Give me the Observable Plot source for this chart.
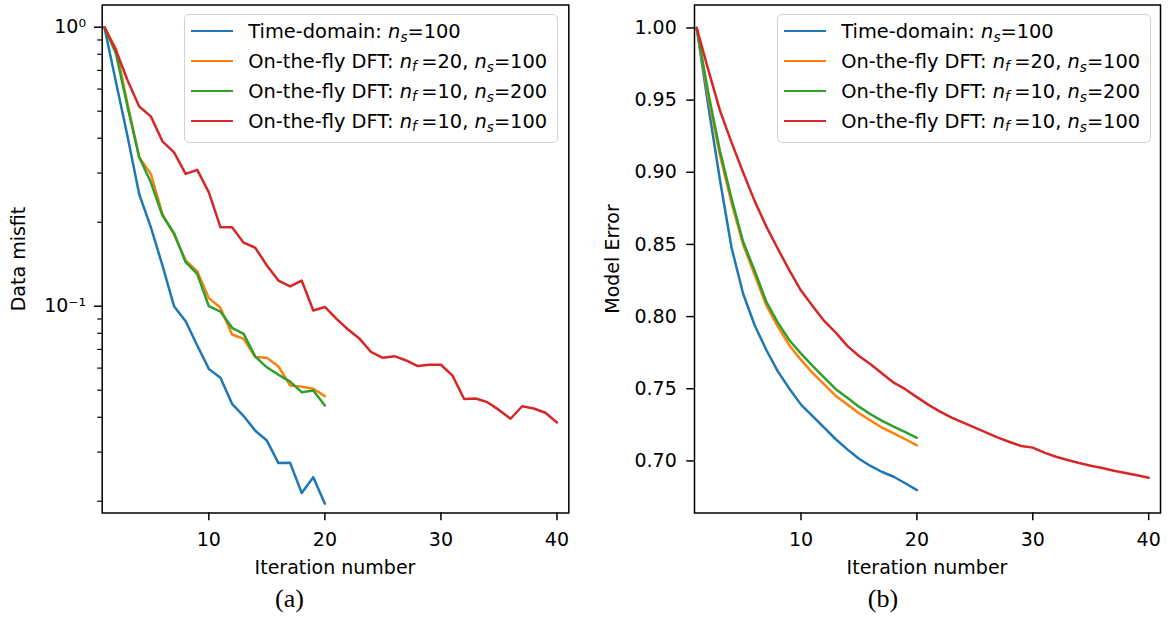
<!DOCTYPE html>
<html><head><meta charset="utf-8">
<script src="https://cdn.jsdelivr.net/npm/d3@7"></script>
<script src="https://cdn.jsdelivr.net/npm/@observablehq/plot@0.6"></script>
<style>
body{margin:0;background:#fff;}
#fig{position:relative;width:1173px;height:617px;overflow:hidden;font-family:"DejaVu Sans",sans-serif;color:#000;background:#fff;}
.panel{position:absolute;top:0;}
.ylab{position:absolute;font-size:19px;white-space:nowrap;transform:translate(-50%,-50%) rotate(-90deg);}
.xlab{position:absolute;font-size:19px;white-space:nowrap;transform:translate(-50%,-50%);}
.cap{position:absolute;font-family:"Liberation Serif",serif;font-size:26px;white-space:nowrap;transform:translate(-50%,-50%);}
.legend{position:absolute;top:14px;width:374px;height:129px;border:1.5px solid #d2d2d2;border-radius:5px;background:rgba(255,255,255,0.8);box-sizing:border-box;}
.row{position:absolute;left:0;height:30px;display:flex;align-items:center;font-size:19.4px;white-space:nowrap;}
.swatch{width:42px;height:2.5px;margin-left:6px;margin-right:15px;flex:none;}
.row sub{font-size:70%;vertical-align:-0.28em;line-height:0;}
.row sub.f{margin-right:4.5px;}
</style>
</head><body>
<div id="fig"></div>
<script>
// ---- data ----
const seriesNames = ["Time-domain", "On-the-fly DFT nf=20 ns=100", "On-the-fly DFT nf=10 ns=200", "On-the-fly DFT nf=10 ns=100"];
const seriesColors = ["#1f77b4", "#ff7f0e", "#2ca02c", "#d62728"];
const legendLabels = [
  "Time-domain: <i>n</i><sub><i>s</i></sub>=100",
  "On-the-fly DFT: <i>n</i><sub class=\"f\"><i>f</i></sub>=20, <i>n</i><sub><i>s</i></sub>=100",
  "On-the-fly DFT: <i>n</i><sub class=\"f\"><i>f</i></sub>=10, <i>n</i><sub><i>s</i></sub>=200",
  "On-the-fly DFT: <i>n</i><sub class=\"f\"><i>f</i></sub>=10, <i>n</i><sub><i>s</i></sub>=100"
];

// (a) Data misfit, iterations 1..n
const misfitTime = [1, 0.635, 0.405, 0.252, 0.192, 0.140, 0.100, 0.0884, 0.0723, 0.0596, 0.0554, 0.0447, 0.0404, 0.0358, 0.0330, 0.0274, 0.0275, 0.0214, 0.0244, 0.0196];
const misfitNf20Ns100 = [1, 0.835, 0.53, 0.342, 0.298, 0.2144, 0.1807, 0.146, 0.1334, 0.1069, 0.0987, 0.0792, 0.0764, 0.0657, 0.0653, 0.0608, 0.052, 0.0515, 0.0506, 0.0476];
const misfitNf10Ns200 = [1, 0.803, 0.517, 0.342, 0.278, 0.2114, 0.183, 0.1438, 0.1306, 0.100, 0.0957, 0.0837, 0.0796, 0.066, 0.0604, 0.0568, 0.0537, 0.0492, 0.0499, 0.0441];
const misfitNf10Ns100 = [1, 0.825, 0.644, 0.520, 0.479, 0.390, 0.356, 0.298, 0.308, 0.256, 0.192, 0.192, 0.169, 0.162, 0.140, 0.1236, 0.1177, 0.1236, 0.0965, 0.0994, 0.0901, 0.0825, 0.0764, 0.0684, 0.0653, 0.0662, 0.0639, 0.0610, 0.0617, 0.0617, 0.0564, 0.0465, 0.0467, 0.0453, 0.0425, 0.0395, 0.0438, 0.0430, 0.0415, 0.0383];

// (b) Model error
const errorTime = [1.0, 0.946, 0.895, 0.848, 0.816, 0.794, 0.777, 0.762, 0.750, 0.739, 0.731, 0.723, 0.715, 0.708, 0.7015, 0.6965, 0.6923, 0.689, 0.6845, 0.6798];
const errorNf20Ns100 = [1.0, 0.952, 0.912, 0.879, 0.850, 0.829, 0.808, 0.793, 0.780, 0.770, 0.761, 0.753, 0.745, 0.739, 0.733, 0.728, 0.723, 0.719, 0.715, 0.7108];
const errorNf10Ns200 = [1.0, 0.955, 0.915, 0.882, 0.852, 0.8317, 0.8104, 0.7958, 0.7836, 0.7743, 0.7658, 0.7577, 0.7497, 0.7438, 0.7376, 0.7323, 0.7277, 0.7237, 0.72, 0.716];
const errorNf10Ns100 = [1.0, 0.971, 0.943, 0.9207, 0.900, 0.880, 0.8625, 0.847, 0.832, 0.818, 0.8074, 0.797, 0.7889, 0.7797, 0.7727, 0.767, 0.7605, 0.7542, 0.7497, 0.7442, 0.7388, 0.7341, 0.730, 0.7265, 0.723, 0.7196, 0.7161, 0.7131, 0.7103, 0.7092, 0.7057, 0.7029, 0.7006, 0.6985, 0.6967, 0.6951, 0.6932, 0.6916, 0.690, 0.6883];

const xTicks = [10, 20, 30, 40];
const misfitMajorTicks = [1, 0.1];
const misfitMajorLabels = ["10⁰", "10⁻¹"];
const misfitMinorTicks = [0.02, 0.03, 0.04, 0.05, 0.06, 0.07, 0.08, 0.09, 0.2, 0.3, 0.4, 0.5, 0.6, 0.7, 0.8, 0.9];
const errorTicks = [0.70, 0.75, 0.80, 0.85, 0.90, 0.95, 1.00];

// ---- build ----
const toRows = (vals, s) => vals.map((v, k) => ({i: k + 1, v, s}));
const misfitData = [misfitTime, misfitNf20Ns100, misfitNf10Ns200, misfitNf10Ns100].map((a, s) => toRows(a, s));
const errorData = [errorTime, errorNf20Ns100, errorNf10Ns200, errorNf10Ns100].map((a, s) => toRows(a, s));

const fig = document.getElementById("fig");
const baseStyle = {fontFamily: "DejaVu Sans", fontSize: "19px", color: "black", background: "transparent", overflow: "visible"};

const lineMarks = data => data.map((d, s) => Plot.lineY(d, {x: "i", y: "v", stroke: seriesColors[s], strokeWidth: 2.5}));

const left = Plot.plot({
  width: 590, height: 580,
  marginLeft: 101.7, marginRight: 21.7, marginTop: 4.5, marginBottom: 67.5,
  style: baseStyle,
  x: {domain: [0.81, 41.02]},
  y: {type: "log", domain: [0.01815, 1.201]},
  marks: [
    ...lineMarks(misfitData),
    Plot.frame({stroke: "black", strokeWidth: 1.5}),
    Plot.axisX({ticks: xTicks, tickSize: 7.7, tickPadding: 12, strokeWidth: 1.5, label: null}),
    Plot.axisY({ticks: misfitMajorTicks, tickSize: 7.7, tickPadding: 8.5, strokeWidth: 1.5, label: null,
      tickFormat: d => misfitMajorLabels[misfitMajorTicks.indexOf(d)]}),
    Plot.axisY({ticks: misfitMinorTicks, tickSize: 4.5, strokeWidth: 1.2, label: null, tickFormat: () => ""})
  ]
});
left.classList.add("panel");
left.style.left = "0px";
fig.appendChild(left);

const right = Plot.plot({
  width: 583, height: 580,
  marginLeft: 104, marginRight: 13, marginTop: 4.5, marginBottom: 67.5,
  style: baseStyle,
  x: {domain: [0.81, 41.02]},
  y: {domain: [0.6639, 1.0159]},
  marks: [
    ...lineMarks(errorData),
    Plot.frame({stroke: "black", strokeWidth: 1.5}),
    Plot.axisX({ticks: xTicks, tickSize: 7.7, tickPadding: 12, strokeWidth: 1.5, label: null}),
    Plot.axisY({ticks: errorTicks, tickSize: 7.7, tickPadding: 10, strokeWidth: 1.5, label: null, tickFormat: d3.format(".2f")})
  ]
});
right.classList.add("panel");
right.style.left = "590px";
fig.appendChild(right);

function addText(cls, text, x, y) {
  const d = document.createElement("div");
  d.className = cls; d.textContent = text;
  d.style.left = x + "px"; d.style.top = y + "px";
  fig.appendChild(d);
}
addText("ylab", "Data misfit", 18, 258.5);
addText("ylab", "Model Error", 612, 258.5);
addText("xlab", "Iteration number", 335, 567);
addText("xlab", "Iteration number", 927, 567);
addText("cap", "(a)", 289.5, 599);
addText("cap", "(b)", 883, 599);

function addLegend(x) {
  const box = document.createElement("div");
  box.className = "legend";
  box.style.left = x + "px";
  const rowTops = [1, 31, 61, 91];
  legendLabels.forEach((lab, s) => {
    const r = document.createElement("div");
    r.className = "row";
    r.style.top = rowTops[s] + "px";
    const sw = document.createElement("div");
    sw.className = "swatch"; sw.style.background = seriesColors[s];
    const t = document.createElement("span");
    t.innerHTML = lab;
    r.appendChild(sw); r.appendChild(t);
    box.appendChild(r);
  });
  fig.appendChild(box);
}
addLegend(184.3);
addLegend(777.3);
</script>
</body></html>
